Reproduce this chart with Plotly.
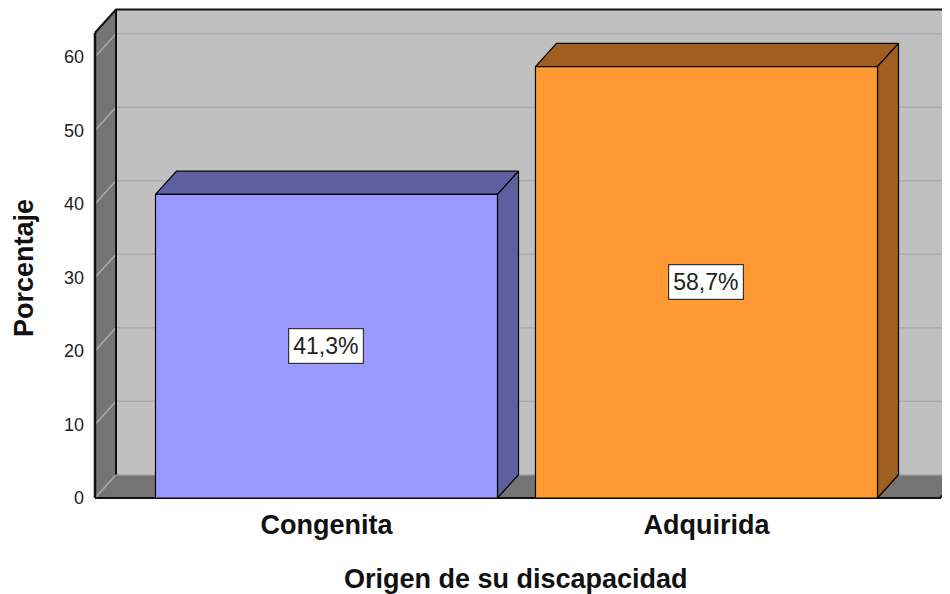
import plotly.graph_objects as go

# ---- data ----
categories = ["Congenita", "Adquirida"]
percentages = [41.3, 58.7]
y_ticks = [0, 10, 20, 30, 40, 50, 60]
x_title = "Origen de su discapacidad"
y_title = "Porcentaje"

# ---- styles / geometry ----
front_colors = ["#9999ff", "#ff9933"]
shade_colors = ["#5f5f9f", "#a05f20"]
WALL = "#c0c0c0"
SIDE_WALL = "#747474"
GRID = "#ababab"
FONT = "Liberation Sans, Arial, sans-serif"

DX = 0.0553      # depth offset (category units)
DY = 3.17        # depth offset (value units)
HALF = 0.45      # half bar width
WALL_TOP = 63.3
X_LEFT = -0.6092
X_FLOOR_END = 1.6145
X_MIN, X_MAX = -0.6355, 1.6408
Y_MIN, Y_MAX = -1.36, 66.67
FAR = X_MAX + 0.2

fig = go.Figure()


def poly(xs, ys, fill, line_color=None, width=0.0):
    fig.add_trace(go.Scatter(
        x=list(xs) + [xs[0]], y=list(ys) + [ys[0]], mode="lines", fill="toself",
        fillcolor=fill, line=dict(color=line_color or fill, width=width),
        hoverinfo="skip", showlegend=False))


def seg(xs, ys, color, width):
    fig.add_trace(go.Scatter(
        x=xs, y=ys, mode="lines", line=dict(color=color, width=width),
        hoverinfo="skip", showlegend=False))


# back wall
poly([X_LEFT + DX, X_LEFT + DX, FAR, FAR], [DY, WALL_TOP + DY, WALL_TOP + DY, DY], WALL)
# left wall
poly([X_LEFT, X_LEFT, X_LEFT + DX, X_LEFT + DX], [0, WALL_TOP, WALL_TOP + DY, DY], SIDE_WALL)
# floor
poly([X_LEFT, X_LEFT + DX, X_FLOOR_END + DX, X_FLOOR_END], [0, DY, DY, 0], SIDE_WALL)

# gridlines
for t in y_ticks:
    seg([X_LEFT, X_LEFT + DX, FAR], [t, t + DY, t + DY], GRID, 1.5)

# wall edges
seg([X_LEFT, X_LEFT], [0, WALL_TOP], "#111111", 2.5)
seg([X_LEFT + DX, X_LEFT + DX], [DY, WALL_TOP + DY], "#111111", 2)
seg([X_LEFT, X_LEFT + DX, FAR], [WALL_TOP, WALL_TOP + DY, WALL_TOP + DY], "#111111", 2)
seg([X_LEFT, X_FLOOR_END, X_FLOOR_END + DX], [0, 0, DY], "#111111", 2)

# bars
for i, v in enumerate(percentages):
    xl, xr = i - HALF, i + HALF
    poly([xl, xl + DX, xr + DX, xr], [v, v + DY, v + DY, v], shade_colors[i], "#000000", 1.2)
    poly([xr, xr, xr + DX, xr + DX], [0, v, v + DY, DY], shade_colors[i], "#000000", 1.2)
    poly([xl, xl, xr, xr], [0, v, v, 0], front_colors[i], "#000000", 1.2)
    fig.add_annotation(
        x=i, y=v / 2, xref="x", yref="y",
        text=f"{v:.1f}%".replace(".", ","), showarrow=False,
        bgcolor="white", bordercolor="#333333", borderwidth=1.2, borderpad=4,
        font=dict(family=FONT, size=23, color="#222222"))

# axis titles
fig.add_annotation(
    x=(516 - 85) / 865, y=-0.141, xref="paper", yref="paper",
    text=x_title, showarrow=False, xanchor="center", yanchor="middle",
    font=dict(family=FONT, size=27, color="#111111", weight="bold"))
fig.add_annotation(
    x=(24 - 85) / 865, y=0.48, xref="paper", yref="paper",
    text=y_title, showarrow=False, textangle=-90, xanchor="center", yanchor="middle",
    font=dict(family=FONT, size=27, color="#111111", weight="bold"))

fig.update_layout(
    width=942, height=586,
    margin=dict(l=77, r=0, t=0, b=86),
    paper_bgcolor="white", plot_bgcolor="white",
    showlegend=False,
    xaxis=dict(range=[X_MIN, X_MAX], tickvals=list(range(len(categories))),
               ticktext=categories, showgrid=False, zeroline=False, showline=False,
               ticks="", ticklabelstandoff=-2,
               tickfont=dict(family=FONT, size=27, color="#111111", weight="bold")),
    yaxis=dict(range=[Y_MIN, Y_MAX], tickvals=y_ticks, showgrid=False, zeroline=False,
               showline=False, ticks="", ticklabelstandoff=0,
               tickfont=dict(family=FONT, size=18, color="#222222")),
)

fig.write_html("out.html")
